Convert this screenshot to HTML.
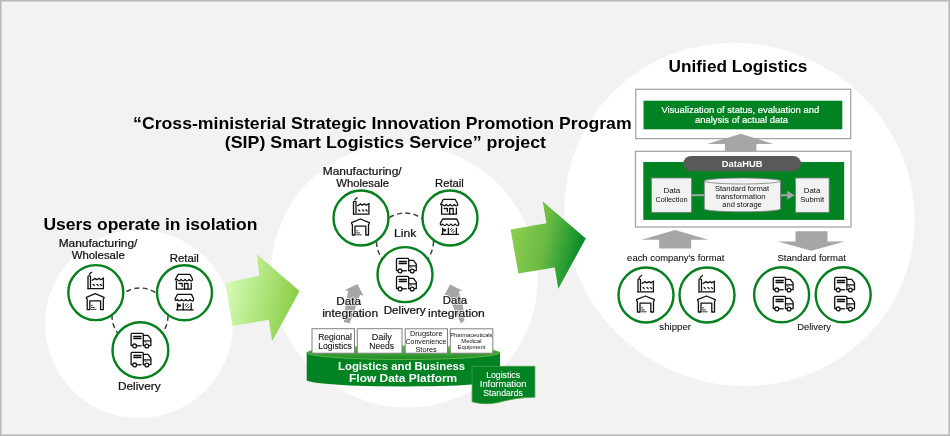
<!DOCTYPE html>
<html><head><meta charset="utf-8">
<style>
html,body{margin:0;padding:0;background:#f2f2f2;}
body{width:950px;height:436px;overflow:hidden;position:relative;}
svg{position:absolute;left:0;top:0;display:block;will-change:transform;}
text{font-family:"Liberation Sans",sans-serif;}
</style></head>
<body>
<svg width="950" height="436" viewBox="0 0 950 436">
<defs>
  <linearGradient id="ga1" x1="0" y1="0" x2="1" y2="0.25">
    <stop offset="0" stop-color="#e0fdc6"/>
    <stop offset="0.47" stop-color="#b8ea88"/>
    <stop offset="0.83" stop-color="#9cd860"/>
    <stop offset="1" stop-color="#8ad04a"/>
  </linearGradient>
  <linearGradient id="ga2" x1="0" y1="0" x2="1" y2="0.25">
    <stop offset="0" stop-color="#94d352"/>
    <stop offset="0.54" stop-color="#6aba44"/>
    <stop offset="0.88" stop-color="#229a30"/>
    <stop offset="1" stop-color="#0b8a2a"/>
  </linearGradient>
  <linearGradient id="gtop" x1="0" y1="0" x2="0" y2="1">
    <stop offset="0" stop-color="#6cc04a"/>
    <stop offset="1" stop-color="#1a8a26"/>
  </linearGradient>
  
</defs>

<rect x="0" y="0" width="950" height="436" fill="#f2f2f2"/>
<rect x="0.5" y="0.5" width="949" height="435" fill="none" stroke="#bbbbbb" stroke-width="1"/>
<rect x="1.5" y="1.5" width="947" height="433" fill="none" stroke="#cdcdcd" stroke-width="1"/>
<rect x="2.5" y="2.5" width="945" height="431" fill="none" stroke="#f6f6f6" stroke-width="1"/>

<circle cx="139" cy="324" r="94" fill="#fff"/>
<ellipse cx="404.5" cy="275.7" rx="134.3" ry="130.9" transform="rotate(33.1 404.5 275.7)" fill="#fff"/>
<ellipse cx="739.6" cy="214.5" rx="176.6" ry="170.1" transform="rotate(28.6 739.6 214.5)" fill="#fff"/>

<path d="M225.3,282.7 L259.2,275.8 L257,254.3 L299.6,290.9 L272.1,341.3 L268.8,319.8 L232.5,325.9 Z" fill="url(#ga1)"/>
<path d="M510.6,229.5 L546.4,223.2 L542.8,201.5 L585.8,238.4 L558.3,288.7 L554.7,267.5 L518.4,273.6 Z" fill="url(#ga2)"/>

<!-- LEFT PANEL -->
<circle cx="140" cy="316" r="28" fill="none" stroke="#404040" stroke-width="1.5" stroke-dasharray="5 3.4"/>
<g fill="#fff" stroke="#067f1f" stroke-width="2.4">
  <circle cx="95.8" cy="292.6" r="27.5"/>
  <circle cx="184.5" cy="292.8" r="27.5"/>
  <circle cx="140.4" cy="350.2" r="27.9"/>
</g>
<g transform="translate(86,272)" fill="none" stroke="#111" stroke-width="1.3" stroke-linejoin="round" stroke-linecap="round">
    <path d="M3.4,2.3 Q4.3,1.1 5.6,0.3"/>
    <path d="M2,16.7 V4.6 Q2,3.8 3.3,3.8 Q4.5,3.8 4.5,4.6 V15.3"/>
    <path d="M2,16.7 H17.4 V6.1"/>
    <path d="M6.2,8.2 L9.2,6.4 L10.6,7.7 L13.3,6.4 L14.7,7.7 L17.4,6.1"/>
    <path d="M7.1,12.4 Q8,12.4 8.3,13.5 M10.9,12.4 Q11.8,12.4 12.1,13.5 M14.3,12.4 Q15.2,12.4 15.5,13.5"/>
  </g>
<g transform="translate(86.3,293.6)" fill="none" stroke="#111" stroke-width="1.3" stroke-linejoin="round" stroke-linecap="round">
    <path d="M0.9,16 V5.5 Q0,5 0,3.7 L8.9,0 L17.8,3.7 Q17.8,5 17,5.5 V16 H14.3 V7.2 H3.5 V16 Z"/>
    <path d="M5.2,11.8 h0.8 M5.2,13.9 h0.9 M7,13.9 h0.9 M5.2,15.8 h0.9 M7,15.8 h0.9 M8.8,15.8 h0.9" stroke-width="0.9"/>
  </g>
<g transform="translate(175.6,274.3)" fill="none" stroke="#111" stroke-width="1.3" stroke-linejoin="round" stroke-linecap="round">
    <path d="M2.5,0 H14.3 L16.9,4.7 Q17,6.6 15.4,6.5 Q14.3,6.4 13.5,5.1 Q12.5,6.6 11.5,6.6 Q10.5,6.6 9.5,5.1 Q8.5,6.6 7.5,6.6 Q6.5,6.6 5.5,5.1 Q4.5,6.6 3.5,6.6 Q2.5,6.6 1.6,5.1 Q0.6,6.2 -0.2,5.2 Z"/>
    <path d="M0.8,7.1 V14.9 H15.6 V8.8"/>
    <path d="M3.4,9.2 H6.6 V12.1"/>
    <path d="M8.9,14.9 V9.2 H12.4 V14.9"/>
  </g>
<g transform="translate(175.6,294.6)" fill="none" stroke="#111" stroke-width="1.3" stroke-linejoin="round" stroke-linecap="round">
    <path d="M1.9,-0.2 H15.9 L17.9,3.9 Q18.3,6.4 16.5,6.3 Q15.2,6.3 14.3,4.8 Q13.4,6.3 12.3,6.3 Q11.2,6.3 10.2,4.8 Q9.2,6.3 8.1,6.3 Q7,6.3 6,4.8 Q5,6.3 3.9,6.3 Q2.8,6.3 1.9,4.8 Q1,6.2 -0.1,5.7 Q-0.7,5 -0.4,3.9 Z"/>
    <path d="M0.8,15.2 H17.6"/>
    <path d="M1.9,15 V8.9 M7.6,8.9 V15.2 M15.6,8.9 V15.2"/>
    <path d="M2.5,10.2 H4.9 V11.8 H2.5" fill="#111" stroke-width="0.8"/>
    <path d="M9.6,10.6 L10.7,9.2 M10.4,12.4 L12.6,9.9 M12.2,13.4 L13.7,11.9" stroke-width="0.9"/>
  </g>
<g transform="translate(130.8,333.5)" fill="none" stroke="#111" stroke-width="1.3" stroke-linejoin="round" stroke-linecap="round">
    <path d="M1.8,12.1 H0.3 V1 Q0.3,-0.1 1.3,-0.1 H11.5 Q12.5,-0.1 12.5,1 V12.1"/>
    <path d="M3,3 H10.2 M3,5 H10.2"/>
    <path d="M12.5,1.9 H17.2 L20.1,5.7 V12.1 H18.2 M12.5,12.1 H13.9 M12.5,7.4 H20.1"/>
    <path d="M6,12.2 H10.2" stroke-width="1.4" stroke="#333"/>
    <circle cx="3.8" cy="12.4" r="1.9" fill="#fff"/>
    <circle cx="16" cy="12.5" r="1.9" fill="#fff"/>
    <path d="M14.3,8.8 h0.8" stroke-width="0.8"/>
  </g>
<g transform="translate(130.8,352.5)" fill="none" stroke="#111" stroke-width="1.3" stroke-linejoin="round" stroke-linecap="round">
    <path d="M1.8,12.1 H0.3 V1 Q0.3,-0.1 1.3,-0.1 H11.5 Q12.5,-0.1 12.5,1 V12.1"/>
    <path d="M3,3 H10.2 M3,5 H10.2"/>
    <path d="M12.5,1.9 H17.2 L20.1,5.7 V12.1 H18.2 M12.5,12.1 H13.9 M12.5,7.4 H20.1"/>
    <path d="M6,12.2 H10.2" stroke-width="1.4" stroke="#333"/>
    <circle cx="3.8" cy="12.4" r="1.9" fill="#fff"/>
    <circle cx="16" cy="12.5" r="1.9" fill="#fff"/>
    <path d="M14.3,8.8 h0.8" stroke-width="0.8"/>
  </g>

<!-- MIDDLE PANEL -->
<circle cx="405" cy="241.5" r="28.5" fill="none" stroke="#404040" stroke-width="1.5" stroke-dasharray="5 3.4"/>
<g fill="#fff" stroke="#067f1f" stroke-width="2.4">
  <circle cx="361" cy="218" r="27.5"/>
  <circle cx="450" cy="218" r="27.5"/>
  <circle cx="405" cy="274.6" r="27.5"/>
</g>
<g transform="translate(351.5,197.5)" fill="none" stroke="#111" stroke-width="1.3" stroke-linejoin="round" stroke-linecap="round">
    <path d="M3.4,2.3 Q4.3,1.1 5.6,0.3"/>
    <path d="M2,16.7 V4.6 Q2,3.8 3.3,3.8 Q4.5,3.8 4.5,4.6 V15.3"/>
    <path d="M2,16.7 H17.4 V6.1"/>
    <path d="M6.2,8.2 L9.2,6.4 L10.6,7.7 L13.3,6.4 L14.7,7.7 L17.4,6.1"/>
    <path d="M7.1,12.4 Q8,12.4 8.3,13.5 M10.9,12.4 Q11.8,12.4 12.1,13.5 M14.3,12.4 Q15.2,12.4 15.5,13.5"/>
  </g>
<g transform="translate(351.5,219)" fill="none" stroke="#111" stroke-width="1.3" stroke-linejoin="round" stroke-linecap="round">
    <path d="M0.9,16 V5.5 Q0,5 0,3.7 L8.9,0 L17.8,3.7 Q17.8,5 17,5.5 V16 H14.3 V7.2 H3.5 V16 Z"/>
    <path d="M5.2,11.8 h0.8 M5.2,13.9 h0.9 M7,13.9 h0.9 M5.2,15.8 h0.9 M7,15.8 h0.9 M8.8,15.8 h0.9" stroke-width="0.9"/>
  </g>
<g transform="translate(440.8,199.3)" fill="none" stroke="#111" stroke-width="1.3" stroke-linejoin="round" stroke-linecap="round">
    <path d="M2.5,0 H14.3 L16.9,4.7 Q17,6.6 15.4,6.5 Q14.3,6.4 13.5,5.1 Q12.5,6.6 11.5,6.6 Q10.5,6.6 9.5,5.1 Q8.5,6.6 7.5,6.6 Q6.5,6.6 5.5,5.1 Q4.5,6.6 3.5,6.6 Q2.5,6.6 1.6,5.1 Q0.6,6.2 -0.2,5.2 Z"/>
    <path d="M0.8,7.1 V14.9 H15.6 V8.8"/>
    <path d="M3.4,9.2 H6.6 V12.1"/>
    <path d="M8.9,14.9 V9.2 H12.4 V14.9"/>
  </g>
<g transform="translate(440.8,219.2)" fill="none" stroke="#111" stroke-width="1.3" stroke-linejoin="round" stroke-linecap="round">
    <path d="M1.9,-0.2 H15.9 L17.9,3.9 Q18.3,6.4 16.5,6.3 Q15.2,6.3 14.3,4.8 Q13.4,6.3 12.3,6.3 Q11.2,6.3 10.2,4.8 Q9.2,6.3 8.1,6.3 Q7,6.3 6,4.8 Q5,6.3 3.9,6.3 Q2.8,6.3 1.9,4.8 Q1,6.2 -0.1,5.7 Q-0.7,5 -0.4,3.9 Z"/>
    <path d="M0.8,15.2 H17.6"/>
    <path d="M1.9,15 V8.9 M7.6,8.9 V15.2 M15.6,8.9 V15.2"/>
    <path d="M2.5,10.2 H4.9 V11.8 H2.5" fill="#111" stroke-width="0.8"/>
    <path d="M9.6,10.6 L10.7,9.2 M10.4,12.4 L12.6,9.9 M12.2,13.4 L13.7,11.9" stroke-width="0.9"/>
  </g>
<g transform="translate(396.2,258.5)" fill="none" stroke="#111" stroke-width="1.3" stroke-linejoin="round" stroke-linecap="round">
    <path d="M1.8,12.1 H0.3 V1 Q0.3,-0.1 1.3,-0.1 H11.5 Q12.5,-0.1 12.5,1 V12.1"/>
    <path d="M3,3 H10.2 M3,5 H10.2"/>
    <path d="M12.5,1.9 H17.2 L20.1,5.7 V12.1 H18.2 M12.5,12.1 H13.9 M12.5,7.4 H20.1"/>
    <path d="M6,12.2 H10.2" stroke-width="1.4" stroke="#333"/>
    <circle cx="3.8" cy="12.4" r="1.9" fill="#fff"/>
    <circle cx="16" cy="12.5" r="1.9" fill="#fff"/>
    <path d="M14.3,8.8 h0.8" stroke-width="0.8"/>
  </g>
<g transform="translate(396.2,276.5)" fill="none" stroke="#111" stroke-width="1.3" stroke-linejoin="round" stroke-linecap="round">
    <path d="M1.8,12.1 H0.3 V1 Q0.3,-0.1 1.3,-0.1 H11.5 Q12.5,-0.1 12.5,1 V12.1"/>
    <path d="M3,3 H10.2 M3,5 H10.2"/>
    <path d="M12.5,1.9 H17.2 L20.1,5.7 V12.1 H18.2 M12.5,12.1 H13.9 M12.5,7.4 H20.1"/>
    <path d="M6,12.2 H10.2" stroke-width="1.4" stroke="#333"/>
    <circle cx="3.8" cy="12.4" r="1.9" fill="#fff"/>
    <circle cx="16" cy="12.5" r="1.9" fill="#fff"/>
    <path d="M14.3,8.8 h0.8" stroke-width="0.8"/>
  </g>
<path d="M343.8,322 Q345,305 348.3,291 L344.9,290.1 L357.5,284 L363.5,295.8 L360,294.7 Q354,312 349.5,323.6 Z" fill="#a6a6a6"/>
<path d="M464.4,320.7 Q464,305 458.7,291.5 L462.1,290.6 L450.1,284.4 L444.3,295.5 L447.2,294.7 Q455,310 461,323.3 Z" fill="#a6a6a6"/>

<!-- platform -->
<path d="M306.7,352.5 V380 A96.65,6.5 0 0 0 500,380 V352.5 Z" fill="#018324"/>
<ellipse cx="403.35" cy="352.5" rx="96.65" ry="7" fill="url(#gtop)"/>
<path d="M306.7,352.5 A96.65,7 0 0 0 500,352.5" fill="none" stroke="#5cb845" stroke-width="1"/>
<g fill="#fff" stroke="#808080" stroke-width="1">
  <rect x="312" y="328.7" width="42.5" height="24.5"/>
  <rect x="357.3" y="328.7" width="44.7" height="24.5"/>
  <rect x="405.2" y="328.8" width="42.3" height="24.4"/>
  <rect x="450.3" y="328.8" width="42.5" height="24.4"/>
</g>
<path d="M472.1,366.3 H534.9 V397.3 C522,397 510,399.5 500,402 C492,404 482,404.5 472.1,401.8 Z" fill="#018324" stroke="#4aa040" stroke-width="0.8"/>

<!-- RIGHT PANEL -->
<rect x="635.7" y="89.3" width="215" height="49.3" fill="#fff" stroke="#a6a6a6" stroke-width="1.3"/>
<rect x="643.5" y="100.7" width="198.8" height="28.6" fill="#018324"/>
<path d="M724.9,153.3 V144 H707 L740.8,133.8 L773.4,144 H756.4 V153.3 Z" fill="#a6a6a6"/>
<rect x="635.5" y="151.3" width="215.5" height="75.7" fill="#fff" stroke="#a6a6a6" stroke-width="1.3"/>
<rect x="643.3" y="162" width="200.9" height="57.9" fill="#018324"/>
<rect x="683.3" y="156" width="117.7" height="15.2" rx="7.6" fill="#595959"/>
<rect x="651.6" y="178" width="39.8" height="34.3" fill="#f2f2f2" stroke="#7f7f7f" stroke-width="0.8"/>
<rect x="795.5" y="178" width="33.6" height="34.3" fill="#f2f2f2" stroke="#7f7f7f" stroke-width="0.8"/>
<path d="M691.4,195.2 H704.3" stroke="#a6a6a6" stroke-width="2"/>
<path d="M780.9,195.2 H788" stroke="#a6a6a6" stroke-width="2"/>
<path d="M787.3,190.7 L794.6,195.2 L787.3,199.7 Z" fill="#a6a6a6"/>
<path d="M704.3,181 V209 A38.1,2.8 0 0 0 780.5,209 V181 Z" fill="#f2f2f2" stroke="#7f7f7f" stroke-width="0.8"/>
<ellipse cx="742.4" cy="181" rx="38.1" ry="3" fill="#f2f2f2" stroke="#7f7f7f" stroke-width="0.8"/>
<path d="M659.2,248.5 V239.7 H641.5 L675,230 L708.3,239.7 H691.2 V248.5 Z" fill="#a6a6a6"/>
<path d="M795.5,231.3 V241.4 H777.8 L811.3,250.8 L844.6,241.4 H827.5 V231.3 Z" fill="#a6a6a6"/>
<g fill="#fff" stroke="#067f1f" stroke-width="2.4">
  <circle cx="646" cy="295" r="27.5"/>
  <circle cx="707" cy="295" r="27.5"/>
  <circle cx="781.6" cy="294.8" r="27.5"/>
  <circle cx="843.2" cy="294.8" r="27.5"/>
</g>
<g transform="translate(636,275.2)" fill="none" stroke="#111" stroke-width="1.3" stroke-linejoin="round" stroke-linecap="round">
    <path d="M3.4,2.3 Q4.3,1.1 5.6,0.3"/>
    <path d="M2,16.7 V4.6 Q2,3.8 3.3,3.8 Q4.5,3.8 4.5,4.6 V15.3"/>
    <path d="M2,16.7 H17.4 V6.1"/>
    <path d="M6.2,8.2 L9.2,6.4 L10.6,7.7 L13.3,6.4 L14.7,7.7 L17.4,6.1"/>
    <path d="M7.1,12.4 Q8,12.4 8.3,13.5 M10.9,12.4 Q11.8,12.4 12.1,13.5 M14.3,12.4 Q15.2,12.4 15.5,13.5"/>
  </g>
<g transform="translate(636.5,296)" fill="none" stroke="#111" stroke-width="1.3" stroke-linejoin="round" stroke-linecap="round">
    <path d="M0.9,16 V5.5 Q0,5 0,3.7 L8.9,0 L17.8,3.7 Q17.8,5 17,5.5 V16 H14.3 V7.2 H3.5 V16 Z"/>
    <path d="M5.2,11.8 h0.8 M5.2,13.9 h0.9 M7,13.9 h0.9 M5.2,15.8 h0.9 M7,15.8 h0.9 M8.8,15.8 h0.9" stroke-width="0.9"/>
  </g>
<g transform="translate(697,275.2)" fill="none" stroke="#111" stroke-width="1.3" stroke-linejoin="round" stroke-linecap="round">
    <path d="M3.4,2.3 Q4.3,1.1 5.6,0.3"/>
    <path d="M2,16.7 V4.6 Q2,3.8 3.3,3.8 Q4.5,3.8 4.5,4.6 V15.3"/>
    <path d="M2,16.7 H17.4 V6.1"/>
    <path d="M6.2,8.2 L9.2,6.4 L10.6,7.7 L13.3,6.4 L14.7,7.7 L17.4,6.1"/>
    <path d="M7.1,12.4 Q8,12.4 8.3,13.5 M10.9,12.4 Q11.8,12.4 12.1,13.5 M14.3,12.4 Q15.2,12.4 15.5,13.5"/>
  </g>
<g transform="translate(697.5,296)" fill="none" stroke="#111" stroke-width="1.3" stroke-linejoin="round" stroke-linecap="round">
    <path d="M0.9,16 V5.5 Q0,5 0,3.7 L8.9,0 L17.8,3.7 Q17.8,5 17,5.5 V16 H14.3 V7.2 H3.5 V16 Z"/>
    <path d="M5.2,11.8 h0.8 M5.2,13.9 h0.9 M7,13.9 h0.9 M5.2,15.8 h0.9 M7,15.8 h0.9 M8.8,15.8 h0.9" stroke-width="0.9"/>
  </g>
<g transform="translate(773,277.5)" fill="none" stroke="#111" stroke-width="1.3" stroke-linejoin="round" stroke-linecap="round">
    <path d="M1.8,12.1 H0.3 V1 Q0.3,-0.1 1.3,-0.1 H11.5 Q12.5,-0.1 12.5,1 V12.1"/>
    <path d="M3,3 H10.2 M3,5 H10.2"/>
    <path d="M12.5,1.9 H17.2 L20.1,5.7 V12.1 H18.2 M12.5,12.1 H13.9 M12.5,7.4 H20.1"/>
    <path d="M6,12.2 H10.2" stroke-width="1.4" stroke="#333"/>
    <circle cx="3.8" cy="12.4" r="1.9" fill="#fff"/>
    <circle cx="16" cy="12.5" r="1.9" fill="#fff"/>
    <path d="M14.3,8.8 h0.8" stroke-width="0.8"/>
  </g>
<g transform="translate(773,296.5)" fill="none" stroke="#111" stroke-width="1.3" stroke-linejoin="round" stroke-linecap="round">
    <path d="M1.8,12.1 H0.3 V1 Q0.3,-0.1 1.3,-0.1 H11.5 Q12.5,-0.1 12.5,1 V12.1"/>
    <path d="M3,3 H10.2 M3,5 H10.2"/>
    <path d="M12.5,1.9 H17.2 L20.1,5.7 V12.1 H18.2 M12.5,12.1 H13.9 M12.5,7.4 H20.1"/>
    <path d="M6,12.2 H10.2" stroke-width="1.4" stroke="#333"/>
    <circle cx="3.8" cy="12.4" r="1.9" fill="#fff"/>
    <circle cx="16" cy="12.5" r="1.9" fill="#fff"/>
    <path d="M14.3,8.8 h0.8" stroke-width="0.8"/>
  </g>
<g transform="translate(834.4,277.5)" fill="none" stroke="#111" stroke-width="1.3" stroke-linejoin="round" stroke-linecap="round">
    <path d="M1.8,12.1 H0.3 V1 Q0.3,-0.1 1.3,-0.1 H11.5 Q12.5,-0.1 12.5,1 V12.1"/>
    <path d="M3,3 H10.2 M3,5 H10.2"/>
    <path d="M12.5,1.9 H17.2 L20.1,5.7 V12.1 H18.2 M12.5,12.1 H13.9 M12.5,7.4 H20.1"/>
    <path d="M6,12.2 H10.2" stroke-width="1.4" stroke="#333"/>
    <circle cx="3.8" cy="12.4" r="1.9" fill="#fff"/>
    <circle cx="16" cy="12.5" r="1.9" fill="#fff"/>
    <path d="M14.3,8.8 h0.8" stroke-width="0.8"/>
  </g>
<g transform="translate(834.4,296.5)" fill="none" stroke="#111" stroke-width="1.3" stroke-linejoin="round" stroke-linecap="round">
    <path d="M1.8,12.1 H0.3 V1 Q0.3,-0.1 1.3,-0.1 H11.5 Q12.5,-0.1 12.5,1 V12.1"/>
    <path d="M3,3 H10.2 M3,5 H10.2"/>
    <path d="M12.5,1.9 H17.2 L20.1,5.7 V12.1 H18.2 M12.5,12.1 H13.9 M12.5,7.4 H20.1"/>
    <path d="M6,12.2 H10.2" stroke-width="1.4" stroke="#333"/>
    <circle cx="3.8" cy="12.4" r="1.9" fill="#fff"/>
    <circle cx="16" cy="12.5" r="1.9" fill="#fff"/>
    <path d="M14.3,8.8 h0.8" stroke-width="0.8"/>
  </g>

<!-- TEXT -->
<text x="382.35" y="129" font-size="16.5" font-weight="bold" fill="#000" text-anchor="middle" textLength="498.57" lengthAdjust="spacingAndGlyphs">“Cross-ministerial Strategic Innovation Promotion Program</text>
<text x="385.40" y="147.9" font-size="16.5" font-weight="bold" fill="#000" text-anchor="middle" textLength="321.27" lengthAdjust="spacingAndGlyphs">(SIP) Smart Logistics Service” project</text>
<text x="150.40" y="230.2" font-size="16.5" font-weight="bold" fill="#000" text-anchor="middle" textLength="213.88" lengthAdjust="spacingAndGlyphs">Users operate in isolation</text>
<text x="738.00" y="72.1" font-size="15.8" font-weight="bold" fill="#000" text-anchor="middle" textLength="138.77" lengthAdjust="spacingAndGlyphs">Unified Logistics</text>
<text x="98.05" y="246.8" font-size="10.9" fill="#111" stroke="#111" stroke-width="0.218" text-anchor="middle" textLength="78.73" lengthAdjust="spacingAndGlyphs">Manufacturing/</text>
<text x="98.25" y="259.1" font-size="10.9" fill="#111" stroke="#111" stroke-width="0.218" text-anchor="middle" textLength="53.13" lengthAdjust="spacingAndGlyphs">Wholesale</text>
<text x="184.28" y="261.7" font-size="10.9" fill="#111" stroke="#111" stroke-width="0.218" text-anchor="middle" textLength="29.19" lengthAdjust="spacingAndGlyphs">Retail</text>
<text x="139.35" y="389.6" font-size="10.9" fill="#111" stroke="#111" stroke-width="0.218" text-anchor="middle" textLength="42.74" lengthAdjust="spacingAndGlyphs">Delivery</text>
<text x="362.20" y="174.6" font-size="10.9" fill="#111" stroke="#111" stroke-width="0.218" text-anchor="middle" textLength="78.83" lengthAdjust="spacingAndGlyphs">Manufacturing/</text>
<text x="362.65" y="187.05" font-size="10.9" fill="#111" stroke="#111" stroke-width="0.218" text-anchor="middle" textLength="52.73" lengthAdjust="spacingAndGlyphs">Wholesale</text>
<text x="449.40" y="186.5" font-size="10.9" fill="#111" stroke="#111" stroke-width="0.218" text-anchor="middle" textLength="28.83" lengthAdjust="spacingAndGlyphs">Retail</text>
<text x="405.20" y="236.9" font-size="10.9" fill="#111" stroke="#111" stroke-width="0.218" text-anchor="middle" textLength="22.24" lengthAdjust="spacingAndGlyphs">Link</text>
<text x="348.60" y="304.5" font-size="10.9" fill="#fff" text-anchor="middle" textLength="24.83" lengthAdjust="spacingAndGlyphs" stroke="#fff" stroke-width="1.3">Data</text>
<text x="350.15" y="316.7" font-size="10.9" fill="#fff" text-anchor="middle" textLength="55.94" lengthAdjust="spacingAndGlyphs" stroke="#fff" stroke-width="1.3">integration</text>
<text x="454.95" y="304.45" font-size="10.9" fill="#fff" text-anchor="middle" textLength="24.14" lengthAdjust="spacingAndGlyphs" stroke="#fff" stroke-width="1.3">Data</text>
<text x="456.40" y="316.5" font-size="10.9" fill="#fff" text-anchor="middle" textLength="56.63" lengthAdjust="spacingAndGlyphs" stroke="#fff" stroke-width="1.3">integration</text>
<text x="348.60" y="304.5" font-size="10.9" fill="#111" stroke="#111" stroke-width="0.218" text-anchor="middle" textLength="24.83" lengthAdjust="spacingAndGlyphs">Data</text>
<text x="350.15" y="316.7" font-size="10.9" fill="#111" stroke="#111" stroke-width="0.218" text-anchor="middle" textLength="55.94" lengthAdjust="spacingAndGlyphs">integration</text>
<text x="404.70" y="313.9" font-size="10.9" fill="#111" stroke="#111" stroke-width="0.218" text-anchor="middle" textLength="42.03" lengthAdjust="spacingAndGlyphs">Delivery</text>
<text x="454.95" y="304.45" font-size="10.9" fill="#111" stroke="#111" stroke-width="0.218" text-anchor="middle" textLength="24.14" lengthAdjust="spacingAndGlyphs">Data</text>
<text x="456.40" y="316.5" font-size="10.9" fill="#111" stroke="#111" stroke-width="0.218" text-anchor="middle" textLength="56.63" lengthAdjust="spacingAndGlyphs">integration</text>
<text x="335.00" y="339.7" font-size="8.6" fill="#111" stroke="#111" stroke-width="0.08" text-anchor="middle" textLength="33.69" lengthAdjust="spacingAndGlyphs">Regional</text>
<text x="335.00" y="349.0" font-size="8.6" fill="#111" stroke="#111" stroke-width="0.08" text-anchor="middle" textLength="33.69" lengthAdjust="spacingAndGlyphs">Logistics</text>
<text x="381.75" y="339.7" font-size="8.6" fill="#111" stroke="#111" stroke-width="0.08" text-anchor="middle" textLength="20.19" lengthAdjust="spacingAndGlyphs">Daily</text>
<text x="381.60" y="349.0" font-size="8.6" fill="#111" stroke="#111" stroke-width="0.08" text-anchor="middle" textLength="24.69" lengthAdjust="spacingAndGlyphs">Needs</text>
<text x="426.25" y="335.8" font-size="7.0" fill="#111" text-anchor="middle" textLength="32.55" lengthAdjust="spacingAndGlyphs">Drugstore</text>
<text x="426.00" y="343.8" font-size="7.0" fill="#111" text-anchor="middle" textLength="41.05" lengthAdjust="spacingAndGlyphs">Convenience</text>
<text x="426.10" y="351.5" font-size="7.0" fill="#111" text-anchor="middle" textLength="21.25" lengthAdjust="spacingAndGlyphs">Stores</text>
<text x="471.35" y="336.8" font-size="6.0" fill="#111" text-anchor="middle" textLength="42.20" lengthAdjust="spacingAndGlyphs">Pharmaceuticals</text>
<text x="471.40" y="343.0" font-size="6.0" fill="#111" text-anchor="middle" textLength="20.10" lengthAdjust="spacingAndGlyphs">Medical</text>
<text x="471.50" y="349.3" font-size="6.0" fill="#111" text-anchor="middle" textLength="27.90" lengthAdjust="spacingAndGlyphs">Equipment</text>
<text x="401.60" y="370.0" font-size="10.9" font-weight="bold" fill="#fff" text-anchor="middle" textLength="127.23" lengthAdjust="spacingAndGlyphs">Logistics and Business</text>
<text x="403.15" y="382.2" font-size="10.9" font-weight="bold" fill="#fff" text-anchor="middle" textLength="108.14" lengthAdjust="spacingAndGlyphs">Flow Data Platform</text>
<text x="503.10" y="377.8" font-size="8.8" fill="#fff" stroke="#fff" stroke-width="0.08" text-anchor="middle" textLength="33.92" lengthAdjust="spacingAndGlyphs">Logistics</text>
<text x="503.10" y="386.9" font-size="8.8" fill="#fff" stroke="#fff" stroke-width="0.08" text-anchor="middle" textLength="46.52" lengthAdjust="spacingAndGlyphs">Information</text>
<text x="503.10" y="396.4" font-size="8.8" fill="#fff" stroke="#fff" stroke-width="0.08" text-anchor="middle" textLength="39.72" lengthAdjust="spacingAndGlyphs">Standards</text>
<text x="740.30" y="113.2" font-size="9.5" fill="#fff" stroke="#fff" stroke-width="0.19" text-anchor="middle" textLength="157.82" lengthAdjust="spacingAndGlyphs">Visualization of status, evaluation and</text>
<text x="741.60" y="122.8" font-size="9.5" fill="#fff" stroke="#fff" stroke-width="0.19" text-anchor="middle" textLength="93.03" lengthAdjust="spacingAndGlyphs">analysis of actual data</text>
<text x="742.15" y="166.8" font-size="8.8" font-weight="bold" fill="#fff" text-anchor="middle" textLength="40.62" lengthAdjust="spacingAndGlyphs">DataHUB</text>
<text x="671.85" y="193.2" font-size="7.6" fill="#111" text-anchor="middle" textLength="16.84" lengthAdjust="spacingAndGlyphs">Data</text>
<text x="671.50" y="201.6" font-size="7.6" fill="#111" text-anchor="middle" textLength="32.14" lengthAdjust="spacingAndGlyphs">Collection</text>
<text x="812.05" y="193.2" font-size="7.6" fill="#111" text-anchor="middle" textLength="16.44" lengthAdjust="spacingAndGlyphs">Data</text>
<text x="812.15" y="201.6" font-size="7.6" fill="#111" text-anchor="middle" textLength="23.84" lengthAdjust="spacingAndGlyphs">Submit</text>
<text x="742.05" y="191.0" font-size="7.6" fill="#111" text-anchor="middle" textLength="54.24" lengthAdjust="spacingAndGlyphs">Standard format</text>
<text x="740.80" y="198.8" font-size="7.6" fill="#111" text-anchor="middle" textLength="49.54" lengthAdjust="spacingAndGlyphs">transformation</text>
<text x="742.05" y="206.8" font-size="7.6" fill="#111" text-anchor="middle" textLength="39.44" lengthAdjust="spacingAndGlyphs">and storage</text>
<text x="675.80" y="261.0" font-size="8.8" fill="#111" stroke="#111" stroke-width="0.08" text-anchor="middle" textLength="97.32" lengthAdjust="spacingAndGlyphs">each company's format</text>
<text x="811.70" y="261.05" font-size="8.8" fill="#111" stroke="#111" stroke-width="0.08" text-anchor="middle" textLength="68.52" lengthAdjust="spacingAndGlyphs">Standard format</text>
<text x="675.20" y="329.7" font-size="8.8" fill="#111" stroke="#111" stroke-width="0.08" text-anchor="middle" textLength="31.72" lengthAdjust="spacingAndGlyphs">shipper</text>
<text x="814.15" y="329.7" font-size="8.8" fill="#111" stroke="#111" stroke-width="0.08" text-anchor="middle" textLength="33.82" lengthAdjust="spacingAndGlyphs">Delivery</text>

</svg>
</body></html>
